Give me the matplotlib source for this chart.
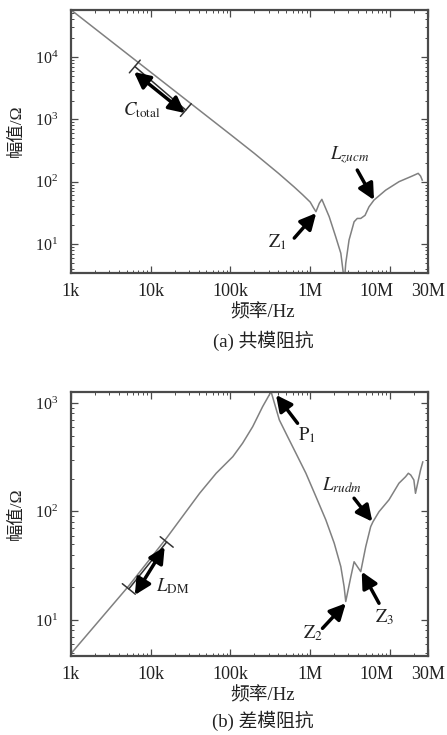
import numpy as np
import matplotlib.pyplot as plt
from matplotlib.ticker import FixedLocator, LogLocator, NullFormatter
from matplotlib.transforms import ScaledTranslation

plt.rcParams['font.family'] = ['Liberation Serif', 'Noto Sans CJK SC']
plt.rcParams['mathtext.fontset'] = 'stix'

# 共模阻抗 (Hz, Ω)
cm_freq = [1e3, 1e4, 1e5, 2e5, 4e5, 6.3e5, 8e5, 1.0e6, 1.1e6, 1.18e6, 1.3e6, 1.4e6,
           1.73e6, 2.09e6, 2.42e6, 2.68e6, 2.79e6, 3.07e6, 3.55e6, 3.89e6, 4.3e6,
           4.87e6, 5.46e6, 6.31e6, 8.83e6, 1.3e7, 1.9e7, 2.26e7, 2.42e7, 2.54e7]
cm_z = [5.7e4, 5.7e3, 570, 283, 136, 82, 62, 47, 38, 33, 45, 52,
        27.4, 13, 7.1, 2.5, 4.9, 11.6, 22.7, 25.7, 25.7,
        28.8, 39.5, 50.7, 73, 100, 123, 136, 123, 106]

# 差模阻抗 (Hz, Ω)
dm_freq = [1e3, 5.21e3, 1.57e4, 4.1e4, 6.62e4, 1.07e5, 1.42e5, 1.9e5, 2.53e5, 3.23e5,
           4.1e5, 5.2e5, 6.62e5, 8.83e5, 1.18e6, 1.57e6, 2.0e6, 2.42e6, 2.66e6, 2.79e6,
           3.23e6, 3.55e6, 4.3e6, 4.97e6, 5.73e6, 6.13e6, 7.29e6, 9.72e6, 1.296e7,
           1.57e7, 1.7e7, 1.82e7, 1.995e7, 2.09e7, 2.42e7, 2.58e7]
dm_z = [4.9, 20.3, 56.6, 147, 225, 320, 426, 605, 925, 1270,
        697, 490, 344, 225, 137, 83.6, 51, 31, 20.3, 14.8,
        25, 34.4, 27.9, 47.4, 72.4, 80.5, 99.5, 128, 182,
        209, 225, 217, 195, 147, 241, 286]

xticks = [1e3, 1e4, 1e5, 1e6, 1e7, 3e7]
xlabels = ['1k', '10k', '100k', '1M', '10M', '30M']

W, H = 447, 735
fig = plt.figure(figsize=(W / 100, H / 100), dpi=100)


def px_axes(left, top, right, bottom):
    return fig.add_axes([left / W, 1 - bottom / H, (right - left) / W, (bottom - top) / H])


ax1 = px_axes(71, 10, 428, 273)
ax2 = px_axes(71, 392, 428, 656)

line_c = '#808080'
edge_c = '#4a4a4a'
text_c = '#222222'

ax1.loglog(cm_freq, cm_z, color=line_c, lw=1.1)
ax2.loglog(dm_freq, dm_z, color=line_c, lw=1.1)
ax1.set_ylim(10 ** 0.5345, 10 ** 4.754)
ax2.set_ylim(10 ** 0.668, 10 ** 3.101)

for ax in (ax1, ax2):
    ax.set_xlim(1e3, 3e7)
    ax.xaxis.set_major_locator(FixedLocator(xticks))
    ax.set_xticklabels(xlabels)
    ax.xaxis.set_minor_locator(LogLocator(base=10, subs=np.arange(2, 10)))
    ax.xaxis.set_minor_formatter(NullFormatter())
    ax.yaxis.set_minor_locator(LogLocator(base=10, subs=np.arange(2, 10), numticks=20))
    ax.yaxis.set_minor_formatter(NullFormatter())
    ax.tick_params(which='both', direction='in', top=True, right=True,
                   colors=edge_c, labelcolor=text_c)
    ax.tick_params(which='major', length=5, width=0.9)
    ax.tick_params(which='minor', length=2.5, width=0.7)
    ax.tick_params(axis='x', pad=7, labelsize=13)
    ax.tick_params(axis='y', pad=9, labelsize=11.5)
    for s in ax.spines.values():
        s.set_linewidth(1.6)
        s.set_color(edge_c)
    ax.set_ylabel('幅值/Ω', fontsize=12.5, color=text_c)
    ax.set_xlabel('频率/Hz', fontsize=13.5, color=text_c)
    ax.yaxis.set_label_coords(-0.128, 0.54)
    ax.xaxis.set_label_coords(0.538, -0.117)
    # 10M 标签左移，避免与 30M 重叠
    lab = ax.get_xticklabels()[4]
    lab.set_transform(lab.get_transform() + ScaledTranslation(-10 / 72, 0, fig.dpi_scale_trans))

ax1.set_yticks([10, 100, 1000, 10000])
ax2.set_yticks([10, 100, 1000])

fig.text(263 / W, 1 - 341 / H, '(a) 共模阻抗', ha='center', va='center', fontsize=13.5, color=text_c)
fig.text(263 / W, 1 - 721 / H, '(b) 差模阻抗', ha='center', va='center', fontsize=13.5, color=text_c)

arrow = dict(arrowstyle='-|>,head_length=0.6,head_width=0.3', lw=2.5, color='black',
             mutation_scale=16, shrinkA=0, shrinkB=0)
darrow = dict(arrowstyle='<|-|>,head_length=0.6,head_width=0.3', lw=2.5, color='black',
              mutation_scale=16, shrinkA=0, shrinkB=0)
bracket = dict(arrowstyle='|-|,widthA=0.6,widthB=0.6', lw=1.1, color='#333333',
               shrinkA=0, shrinkB=0)


def L(lf, lz):
    return (10 ** lf, 10 ** lz)


# (a) 注释
ax1.annotate('', xy=L(4.44, 3.149), xytext=L(3.80, 3.848), arrowprops=bracket)
ax1.annotate('', xy=L(4.43, 3.10), xytext=L(3.79, 3.76), arrowprops=darrow)
ax1.text(*L(3.89, 3.15), r'$C_{\rm total}$', fontsize=13.5, ha='center', va='center', color=text_c)
ax1.annotate('', xy=L(6.075, 1.496), xytext=L(5.80, 1.095), arrowprops=arrow)
ax1.text(*L(5.59, 1.03), r'$\rm Z_1$', fontsize=13.5, ha='center', va='center', color=text_c)
ax1.annotate('', xy=L(6.80, 1.705), xytext=L(6.59, 2.186), arrowprops=arrow)
ax1.text(*L(6.49, 2.427), r'$L_{zucm}$', fontsize=13.5, ha='center', va='center', color=text_c)

# (b) 注释
ax2.annotate('', xy=L(4.20, 1.719), xytext=L(3.725, 1.286), arrowprops=bracket)
ax2.annotate('', xy=L(4.175, 1.675), xytext=L(3.80, 1.23), arrowprops=darrow)
ax2.text(*L(4.27, 1.313), r'$L_{\rm DM}$', fontsize=13.5, ha='center', va='center', color=text_c)
ax2.annotate('', xy=L(5.571, 3.074), xytext=L(5.841, 2.813), arrowprops=arrow)
ax2.text(*L(5.9625, 2.705), r'$\rm P_1$', fontsize=13.5, ha='center', va='center', color=text_c)
ax2.text(*L(6.40, 2.244), r'$L_{rudm}$', fontsize=13.5, ha='center', va='center', color=text_c)
ax2.annotate('', xy=L(6.779, 1.906), xytext=L(6.55, 2.122), arrowprops=arrow)
ax2.annotate('', xy=L(6.446, 1.154), xytext=L(6.154, 0.923), arrowprops=arrow)
ax2.text(*L(6.0375, 0.88), r'$\rm Z_2$', fontsize=13.5, ha='center', va='center', color=text_c)
ax2.annotate('', xy=L(6.646, 1.445), xytext=L(6.8625, 1.154), arrowprops=arrow)
ax2.text(*L(6.9375, 1.028), r'$\rm Z_3$', fontsize=13.5, ha='center', va='center', color=text_c)

fig.savefig('out.png', dpi=100)
